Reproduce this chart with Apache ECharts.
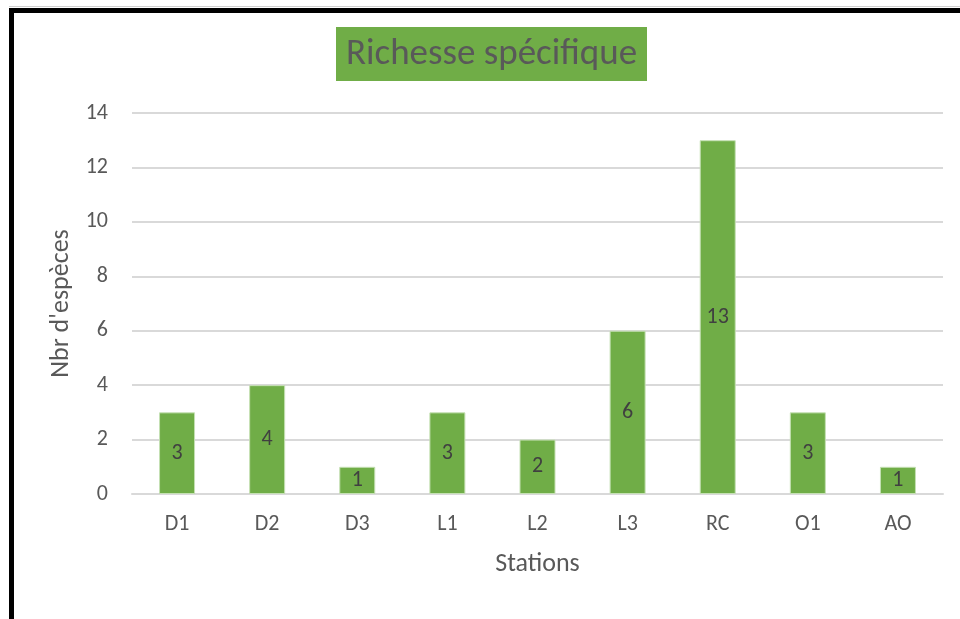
<!DOCTYPE html>
<html><head><meta charset="utf-8">
<script src="https://cdn.jsdelivr.net/npm/echarts@6/dist/echarts.min.js"></script>
<style>html,body{margin:0;padding:0;background:#fff}#c{width:960px;height:619px}</style>
</head><body><div id="c"></div>
<script>
const categories = ['D1','D2','D3','L1','L2','L3','RC','O1','AO'];
const values = [3,4,1,3,2,6,13,3,1];
const yTicks = {min:0, max:14, interval:2};
const titleText = 'Richesse spécifique';
const xName = 'Stations';
const yName = "Nbr d'espèces";

const FONT = "Carlito, Lato, 'Open Sans', sans-serif";
const chart = echarts.init(document.getElementById('c'));
chart.setOption({
  animation:false,
  backgroundColor:'#fff',
  grid:{left:132,right:17,top:113,bottom:125,containLabel:false},
  graphic:[
    {type:'rect',shape:{x:9,y:6,width:951,height:1},style:{fill:'#d0d0d0'}},
    {type:'rect',shape:{x:9,y:8,width:951,height:5},style:{fill:'#000'}},
    {type:'rect',shape:{x:9,y:8,width:5,height:611},style:{fill:'#000'}},
    {type:'rect',shape:{x:336,y:27,width:311,height:54},style:{fill:'#70AD47'}},
    {type:'text',x:491.5,y:55,style:{text:titleText,fill:'#595959',font:'300 37px '+FONT,textAlign:'center',textVerticalAlign:'middle'}}
  ],
  xAxis:{type:'category',data:categories,
    axisLine:{lineStyle:{color:'#d9d9d9',width:2}},axisTick:{show:false},
    axisLabel:{color:'#595959',fontSize:22,fontFamily:FONT,margin:19},
    name:xName,nameLocation:'middle',nameGap:57,
    nameTextStyle:{color:'#595959',fontSize:26,fontFamily:FONT}},
  yAxis:{type:'value',min:yTicks.min,max:yTicks.max,interval:yTicks.interval,
    axisLine:{show:false},axisTick:{show:false},
    splitLine:{lineStyle:{color:'#d9d9d9',width:2}},
    axisLabel:{color:'#595959',fontSize:22,fontFamily:FONT,margin:24},
    name:yName,nameLocation:'middle',nameGap:57,
    nameTextStyle:{color:'#595959',fontSize:26,fontFamily:FONT}},
  series:[{type:'bar',data:values,barWidth:36,
    itemStyle:{color:'#70AD47',borderColor:'#c5e0b4',borderWidth:1},
    label:{show:true,position:'inside',color:'#404040',fontSize:22,fontFamily:FONT}}]
});
</script></body></html>
